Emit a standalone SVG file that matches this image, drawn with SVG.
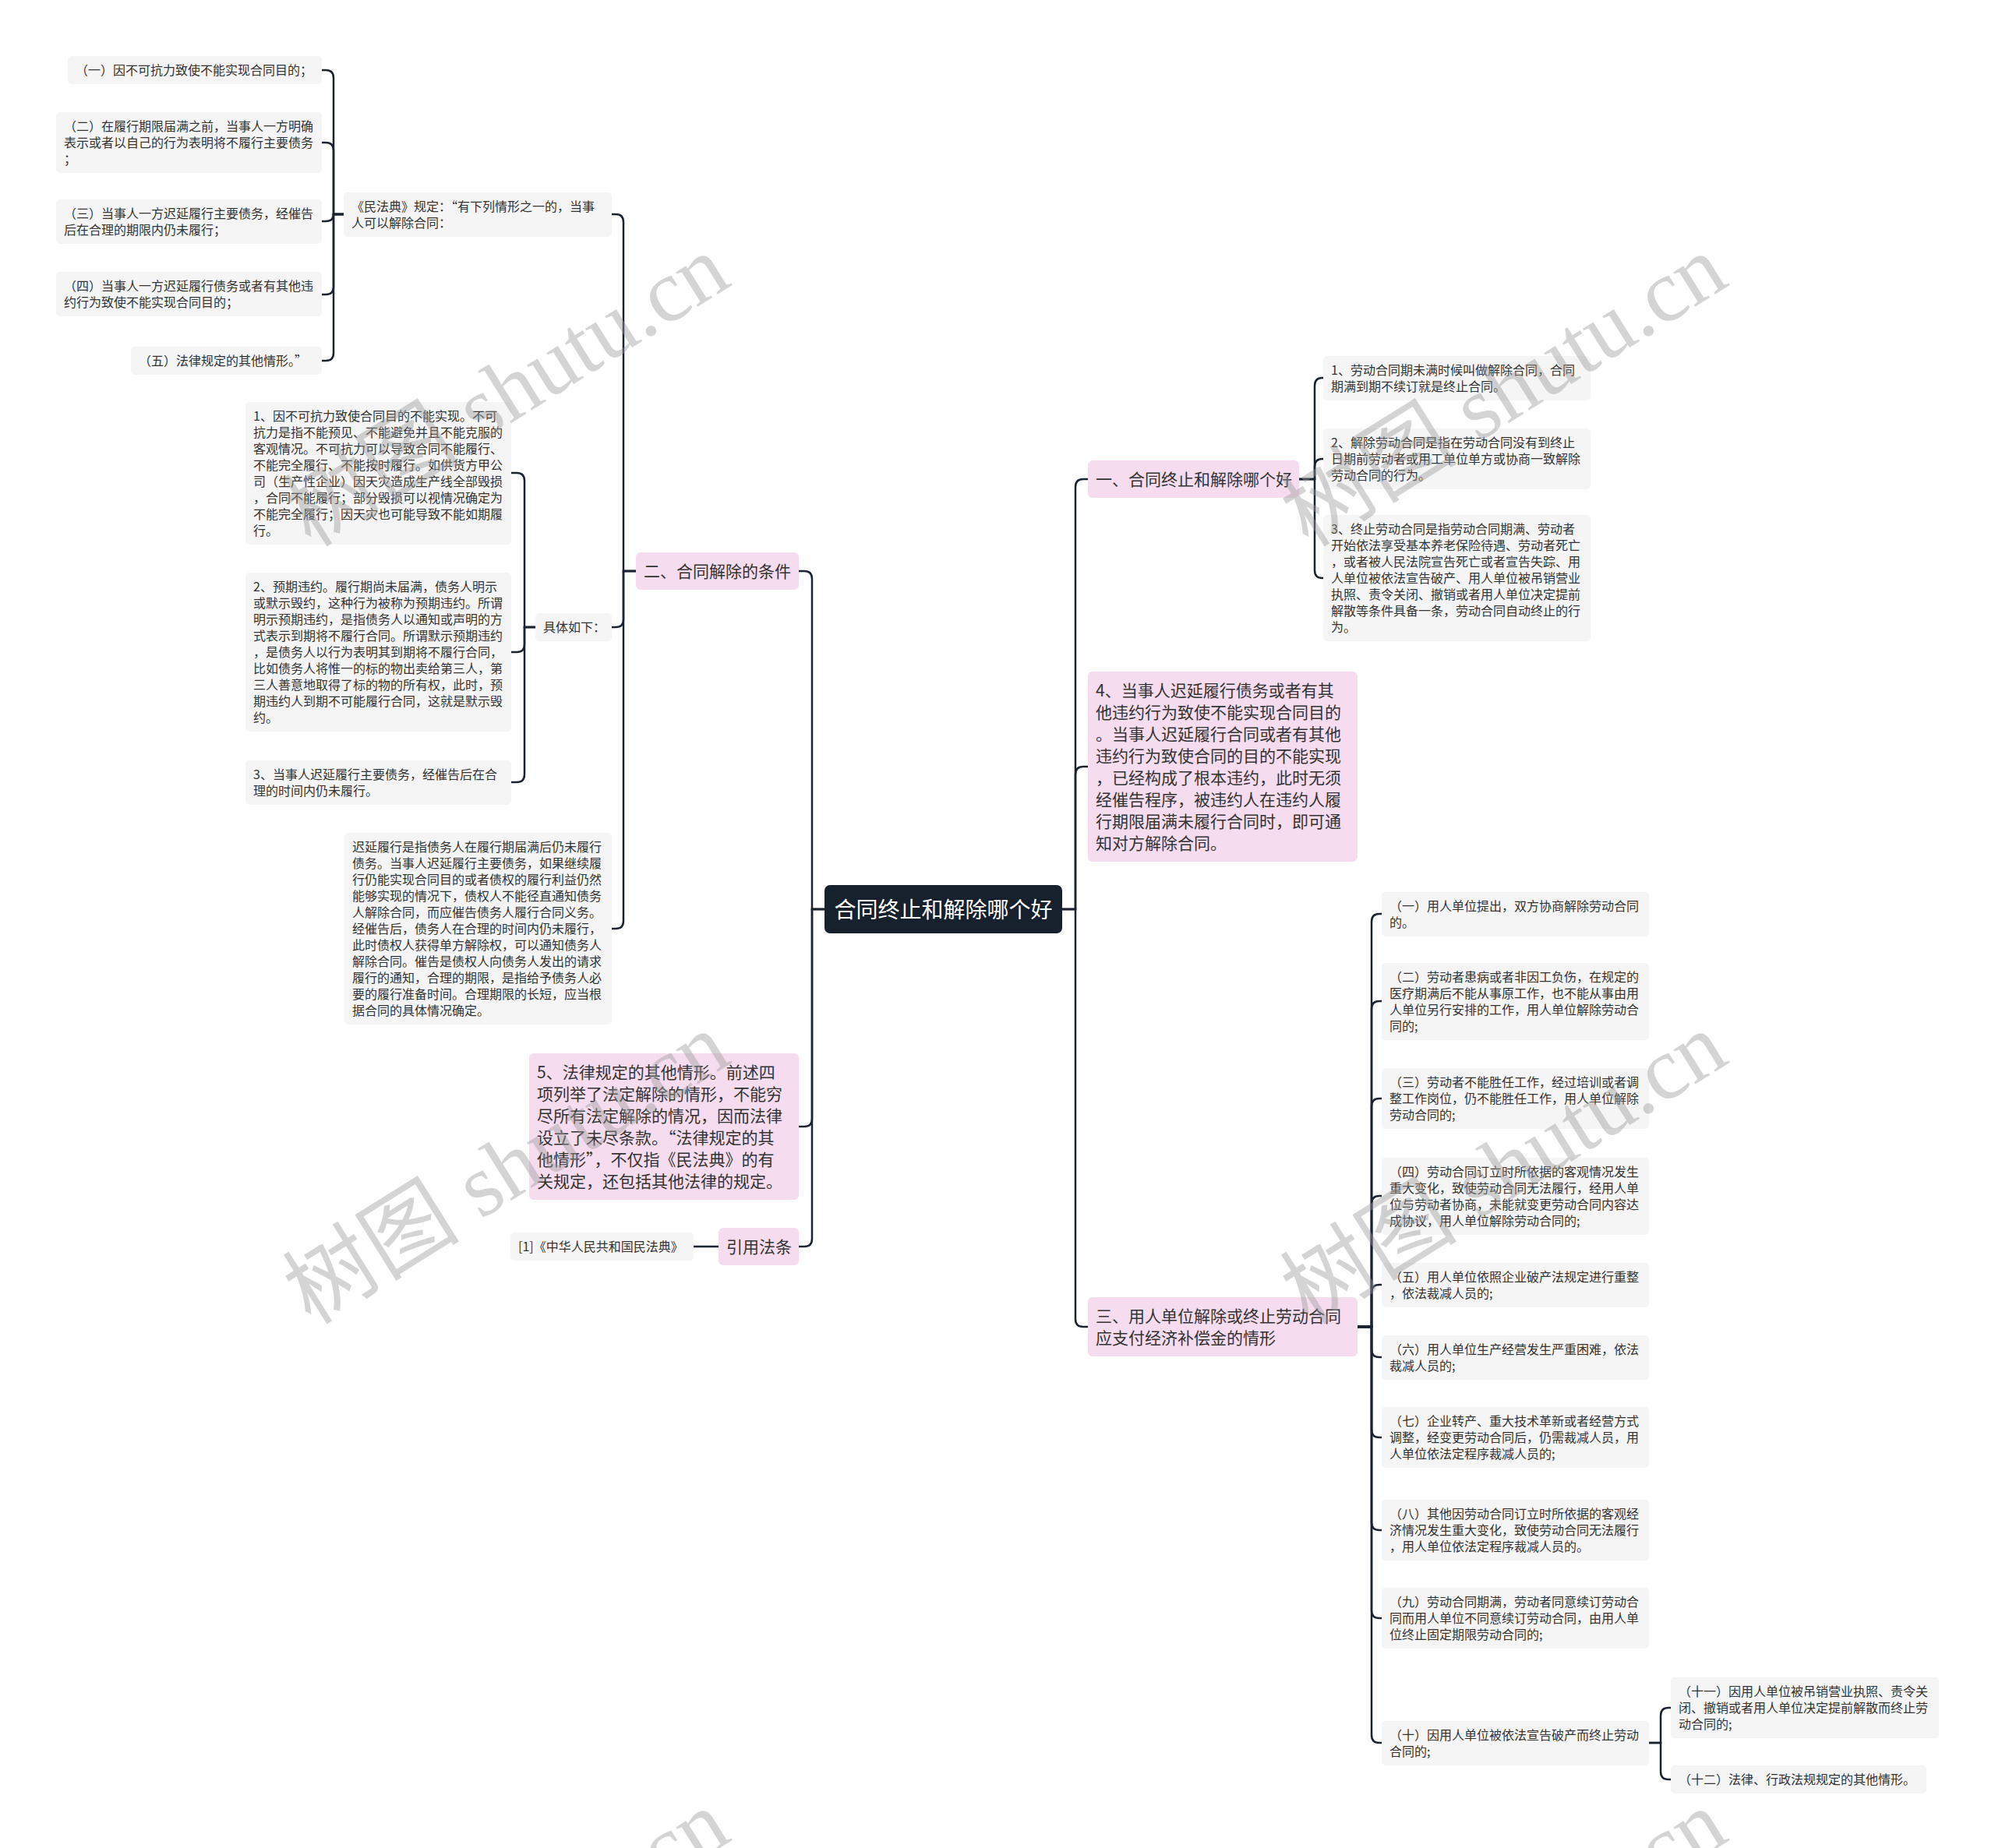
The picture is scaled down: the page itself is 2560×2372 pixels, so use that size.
<svg xmlns="http://www.w3.org/2000/svg" width="2560" height="2372" viewBox="0 0 2560 2372">
<style>
.g{fill:#f5f5f5}
.p{fill:#f6dcef}
.c{fill:#17202d}
text{font-family:"Noto Sans CJK SC","Noto Sans CJK JP",sans-serif;fill:#333}
.t{font-size:16px}
.t1{font-size:21px}
.tc{font-size:28px;fill:#ffffff}
.ln{fill:none;stroke:#1b2331;stroke-width:2.5;stroke-linecap:round}
.wm{font-family:"Liberation Serif","Noto Sans CJK SC",serif;font-size:114px;fill:#9a9a9a;opacity:0.42}
</style>
<rect width="2560" height="2372" fill="#ffffff"/>
<g id="connectors" class="ln">
<path d="M1058 1167 H1042 V743 Q1042 733 1032 733 H1025"/>
<path d="M1058 1167 H1042 V1436 Q1042 1446 1032 1446 H1025"/>
<path d="M1058 1167 H1042 V1590 Q1042 1600 1032 1600 H1025"/>
<path d="M1363 1167 H1380 V625 Q1380 615 1390 615 H1396"/>
<path d="M1363 1167 H1380 V994 Q1380 984 1390 984 H1396"/>
<path d="M1363 1167 H1380 V1693 Q1380 1703 1390 1703 H1396"/>
<path d="M816 733 H800 V285 Q800 275 790 275 H785"/>
<path d="M816 733 H800 V795 Q800 805 790 805 H785"/>
<path d="M816 733 H800 V1182 Q800 1192 790 1192 H785"/>
<path d="M441 275 H428 V100 Q428 90 418 90 H413"/>
<path d="M441 275 H428 V193 Q428 183 418 183 H413"/>
<path d="M441 275 H428 V275 Q428 284 418 284 H413"/>
<path d="M441 275 H428 V368 Q428 378 418 378 H413"/>
<path d="M441 275 H428 V453 Q428 463 418 463 H413"/>
<path d="M687 805 H673 V617 Q673 607 663 607 H656"/>
<path d="M687 805 H673 V827 Q673 837 663 837 H656"/>
<path d="M687 805 H673 V994 Q673 1004 663 1004 H656"/>
<path d="M1667 615 H1687 V495 Q1687 485 1697 485 H1698"/>
<path d="M1667 615 H1687 V599 Q1687 589 1697 589 H1698"/>
<path d="M1667 615 H1687 V732 Q1687 742 1697 742 H1698"/>
<path d="M1742 1703 H1760 V1183 Q1760 1173 1770 1173 H1773"/>
<path d="M1742 1703 H1760 V1295 Q1760 1285 1770 1285 H1773"/>
<path d="M1742 1703 H1760 V1420 Q1760 1410 1770 1410 H1773"/>
<path d="M1742 1703 H1760 V1545 Q1760 1535 1770 1535 H1773"/>
<path d="M1742 1703 H1760 V1659 Q1760 1649 1770 1649 H1773"/>
<path d="M1742 1703 H1760 V1732 Q1760 1742 1770 1742 H1773"/>
<path d="M1742 1703 H1760 V1835 Q1760 1845 1770 1845 H1773"/>
<path d="M1742 1703 H1760 V1954 Q1760 1964 1770 1964 H1773"/>
<path d="M1742 1703 H1760 V2067 Q1760 2077 1770 2077 H1773"/>
<path d="M1742 1703 H1760 V2227 Q1760 2237 1770 2237 H1773"/>
<path d="M2116 2237 H2131 V2202 Q2131 2192 2141 2192 H2144"/>
<path d="M2116 2237 H2131 V2274 Q2131 2284 2141 2284 H2144"/>
<path d="M922 1600 H890"/>
</g>
<g id="root"><rect class="c" x="1058" y="1136" width="305" height="62" rx="7"/><text class="tc" x="1210.5" y="1178" text-anchor="middle">合同终止和解除哪个好</text></g>
<g id="n-er"><rect class="p" x="816" y="709" width="209" height="48" rx="6"/><text class="t1" x="826" y="741">二、合同解除的条件</text></g>
<g id="n-five"><rect class="p" x="679" y="1352" width="346" height="188" rx="6"/><text class="t1"><tspan x="689" y="1384">5、法律规定的其他情形。前述四</tspan><tspan x="689" y="1412">项列举了法定解除的情形，不能穷</tspan><tspan x="689" y="1440">尽所有法定解除的情况，因而法律</tspan><tspan x="689" y="1468">设立了未尽条款。“法律规定的其</tspan><tspan x="689" y="1496">他情形”，不仅指《民法典》的有</tspan><tspan x="689" y="1524">关规定，还包括其他法律的规定。</tspan></text></g>
<g id="n-yinyong"><rect class="p" x="922" y="1576" width="103" height="48" rx="6"/><text class="t1" x="932" y="1608">引用法条</text></g>
<g id="n-law"><rect class="g" x="655" y="1582" width="235" height="36" rx="5"/><text class="t" x="665" y="1606">[1]《中华人民共和国民法典》</text></g>
<g id="n-minfa"><rect class="g" x="441" y="247" width="344" height="57" rx="5"/><text class="t"><tspan x="451" y="271">《民法典》规定：“有下列情形之一的，当事</tspan><tspan x="451" y="292">人可以解除合同：</tspan></text></g>
<g id="n-a1"><rect class="g" x="87" y="72" width="326" height="36" rx="5"/><text class="t" x="97" y="96">（一）因不可抗力致使不能实现合同目的；</text></g>
<g id="n-a2"><rect class="g" x="72" y="144" width="341" height="78" rx="5"/><text class="t"><tspan x="82" y="168">（二）在履行期限届满之前，当事人一方明确</tspan><tspan x="82" y="189">表示或者以自己的行为表明将不履行主要债务</tspan><tspan x="82" y="210">；</tspan></text></g>
<g id="n-a3"><rect class="g" x="72" y="256" width="341" height="57" rx="5"/><text class="t"><tspan x="82" y="280">（三）当事人一方迟延履行主要债务，经催告</tspan><tspan x="82" y="301">后在合理的期限内仍未履行；</tspan></text></g>
<g id="n-a4"><rect class="g" x="72" y="349" width="341" height="57" rx="5"/><text class="t"><tspan x="82" y="373">（四）当事人一方迟延履行债务或者有其他违</tspan><tspan x="82" y="394">约行为致使不能实现合同目的；</tspan></text></g>
<g id="n-a5"><rect class="g" x="168" y="445" width="245" height="36" rx="5"/><text class="t" x="178" y="469">（五）法律规定的其他情形。”</text></g>
<g id="n-juti"><rect class="g" x="687" y="787" width="98" height="36" rx="5"/><text class="t" x="697" y="811">具体如下：</text></g>
<g id="n-b1"><rect class="g" x="315" y="516" width="341" height="183" rx="5"/><text class="t"><tspan x="325" y="540">1、因不可抗力致使合同目的不能实现。不可</tspan><tspan x="325" y="561">抗力是指不能预见、不能避免并且不能克服的</tspan><tspan x="325" y="582">客观情况。不可抗力可以导致合同不能履行、</tspan><tspan x="325" y="603">不能完全履行、不能按时履行。如供货方甲公</tspan><tspan x="325" y="624">司（生产性企业）因天灾造成生产线全部毁损</tspan><tspan x="325" y="645">，合同不能履行；部分毁损可以视情况确定为</tspan><tspan x="325" y="666">不能完全履行；因天灾也可能导致不能如期履</tspan><tspan x="325" y="687">行。</tspan></text></g>
<g id="n-b2"><rect class="g" x="315" y="735" width="341" height="204" rx="5"/><text class="t"><tspan x="325" y="759">2、预期违约。履行期尚未届满，债务人明示</tspan><tspan x="325" y="780">或默示毁约，这种行为被称为预期违约。所谓</tspan><tspan x="325" y="801">明示预期违约，是指债务人以通知或声明的方</tspan><tspan x="325" y="822">式表示到期将不履行合同。所谓默示预期违约</tspan><tspan x="325" y="843">，是债务人以行为表明其到期将不履行合同，</tspan><tspan x="325" y="864">比如债务人将惟一的标的物出卖给第三人，第</tspan><tspan x="325" y="885">三人善意地取得了标的物的所有权，此时，预</tspan><tspan x="325" y="906">期违约人到期不可能履行合同，这就是默示毁</tspan><tspan x="325" y="927">约。</tspan></text></g>
<g id="n-b3"><rect class="g" x="315" y="976" width="341" height="57" rx="5"/><text class="t"><tspan x="325" y="1000">3、当事人迟延履行主要债务，经催告后在合</tspan><tspan x="325" y="1021">理的时间内仍未履行。</tspan></text></g>
<g id="n-c"><rect class="g" x="442" y="1069" width="343" height="246" rx="5"/><text class="t"><tspan x="452" y="1093">迟延履行是指债务人在履行期届满后仍未履行</tspan><tspan x="452" y="1114">债务。当事人迟延履行主要债务，如果继续履</tspan><tspan x="452" y="1135">行仍能实现合同目的或者债权的履行利益仍然</tspan><tspan x="452" y="1156">能够实现的情况下，债权人不能径直通知债务</tspan><tspan x="452" y="1177">人解除合同，而应催告债务人履行合同义务。</tspan><tspan x="452" y="1198">经催告后，债务人在合理的时间内仍未履行，</tspan><tspan x="452" y="1219">此时债权人获得单方解除权，可以通知债务人</tspan><tspan x="452" y="1240">解除合同。催告是债权人向债务人发出的请求</tspan><tspan x="452" y="1261">履行的通知，合理的期限，是指给予债务人必</tspan><tspan x="452" y="1282">要的履行准备时间。合理期限的长短，应当根</tspan><tspan x="452" y="1303">据合同的具体情况确定。</tspan></text></g>
<g id="n-yi"><rect class="p" x="1396" y="591" width="271" height="48" rx="6"/><text class="t1" x="1406" y="623">一、合同终止和解除哪个好</text></g>
<g id="n-g1"><rect class="g" x="1698" y="457" width="343" height="57" rx="5"/><text class="t"><tspan x="1708" y="481">1、劳动合同期未满时候叫做解除合同，合同</tspan><tspan x="1708" y="502">期满到期不续订就是终止合同。</tspan></text></g>
<g id="n-g2"><rect class="g" x="1698" y="550" width="343" height="78" rx="5"/><text class="t"><tspan x="1708" y="574">2、解除劳动合同是指在劳动合同没有到终止</tspan><tspan x="1708" y="595">日期前劳动者或用工单位单方或协商一致解除</tspan><tspan x="1708" y="616">劳动合同的行为。</tspan></text></g>
<g id="n-g3"><rect class="g" x="1698" y="661" width="343" height="162" rx="5"/><text class="t"><tspan x="1708" y="685">3、终止劳动合同是指劳动合同期满、劳动者</tspan><tspan x="1708" y="706">开始依法享受基本养老保险待遇、劳动者死亡</tspan><tspan x="1708" y="727">，或者被人民法院宣告死亡或者宣告失踪、用</tspan><tspan x="1708" y="748">人单位被依法宣告破产、用人单位被吊销营业</tspan><tspan x="1708" y="769">执照、责令关闭、撤销或者用人单位决定提前</tspan><tspan x="1708" y="790">解散等条件具备一条，劳动合同自动终止的行</tspan><tspan x="1708" y="811">为。</tspan></text></g>
<g id="n-four"><rect class="p" x="1396" y="862" width="346" height="244" rx="6"/><text class="t1"><tspan x="1406" y="894">4、当事人迟延履行债务或者有其</tspan><tspan x="1406" y="922">他违约行为致使不能实现合同目的</tspan><tspan x="1406" y="950">。当事人迟延履行合同或者有其他</tspan><tspan x="1406" y="978">违约行为致使合同的目的不能实现</tspan><tspan x="1406" y="1006">，已经构成了根本违约，此时无须</tspan><tspan x="1406" y="1034">经催告程序，被违约人在违约人履</tspan><tspan x="1406" y="1062">行期限届满未履行合同时，即可通</tspan><tspan x="1406" y="1090">知对方解除合同。</tspan></text></g>
<g id="n-san"><rect class="p" x="1396" y="1665" width="346" height="76" rx="6"/><text class="t1"><tspan x="1406" y="1697">三、用人单位解除或终止劳动合同</tspan><tspan x="1406" y="1725">应支付经济补偿金的情形</tspan></text></g>
<g id="n-i1"><rect class="g" x="1773" y="1145" width="343" height="57" rx="5"/><text class="t"><tspan x="1783" y="1169">（一）用人单位提出，双方协商解除劳动合同</tspan><tspan x="1783" y="1190">的。</tspan></text></g>
<g id="n-i2"><rect class="g" x="1773" y="1236" width="343" height="99" rx="5"/><text class="t"><tspan x="1783" y="1260">（二）劳动者患病或者非因工负伤，在规定的</tspan><tspan x="1783" y="1281">医疗期满后不能从事原工作，也不能从事由用</tspan><tspan x="1783" y="1302">人单位另行安排的工作，用人单位解除劳动合</tspan><tspan x="1783" y="1323">同的;</tspan></text></g>
<g id="n-i3"><rect class="g" x="1773" y="1371" width="343" height="78" rx="5"/><text class="t"><tspan x="1783" y="1395">（三）劳动者不能胜任工作，经过培训或者调</tspan><tspan x="1783" y="1416">整工作岗位，仍不能胜任工作，用人单位解除</tspan><tspan x="1783" y="1437">劳动合同的;</tspan></text></g>
<g id="n-i4"><rect class="g" x="1773" y="1486" width="343" height="99" rx="5"/><text class="t"><tspan x="1783" y="1510">（四）劳动合同订立时所依据的客观情况发生</tspan><tspan x="1783" y="1531">重大变化，致使劳动合同无法履行，经用人单</tspan><tspan x="1783" y="1552">位与劳动者协商，未能就变更劳动合同内容达</tspan><tspan x="1783" y="1573">成协议，用人单位解除劳动合同的;</tspan></text></g>
<g id="n-i5"><rect class="g" x="1773" y="1621" width="343" height="57" rx="5"/><text class="t"><tspan x="1783" y="1645">（五）用人单位依照企业破产法规定进行重整</tspan><tspan x="1783" y="1666">，依法裁减人员的;</tspan></text></g>
<g id="n-i6"><rect class="g" x="1773" y="1714" width="343" height="57" rx="5"/><text class="t"><tspan x="1783" y="1738">（六）用人单位生产经营发生严重困难，依法</tspan><tspan x="1783" y="1759">裁减人员的;</tspan></text></g>
<g id="n-i7"><rect class="g" x="1773" y="1806" width="343" height="78" rx="5"/><text class="t"><tspan x="1783" y="1830">（七）企业转产、重大技术革新或者经营方式</tspan><tspan x="1783" y="1851">调整，经变更劳动合同后，仍需裁减人员，用</tspan><tspan x="1783" y="1872">人单位依法定程序裁减人员的;</tspan></text></g>
<g id="n-i8"><rect class="g" x="1773" y="1925" width="343" height="78" rx="5"/><text class="t"><tspan x="1783" y="1949">（八）其他因劳动合同订立时所依据的客观经</tspan><tspan x="1783" y="1970">济情况发生重大变化，致使劳动合同无法履行</tspan><tspan x="1783" y="1991">，用人单位依法定程序裁减人员的。</tspan></text></g>
<g id="n-i9"><rect class="g" x="1773" y="2038" width="343" height="78" rx="5"/><text class="t"><tspan x="1783" y="2062">（九）劳动合同期满，劳动者同意续订劳动合</tspan><tspan x="1783" y="2083">同而用人单位不同意续订劳动合同，由用人单</tspan><tspan x="1783" y="2104">位终止固定期限劳动合同的;</tspan></text></g>
<g id="n-i10"><rect class="g" x="1773" y="2209" width="343" height="57" rx="5"/><text class="t"><tspan x="1783" y="2233">（十）因用人单位被依法宣告破产而终止劳动</tspan><tspan x="1783" y="2254">合同的;</tspan></text></g>
<g id="n-i11"><rect class="g" x="2144" y="2153" width="344" height="78" rx="5"/><text class="t"><tspan x="2154" y="2177">（十一）因用人单位被吊销营业执照、责令关</tspan><tspan x="2154" y="2198">闭、撤销或者用人单位决定提前解散而终止劳</tspan><tspan x="2154" y="2219">动合同的;</tspan></text></g>
<g id="n-i12"><rect class="g" x="2144" y="2266" width="328" height="36" rx="5"/><text class="t" x="2154" y="2290">（十二）法律、行政法规规定的其他情形。</text></g>
<g id="watermark">
<text class="wm" x="650" y="540" text-anchor="middle" transform="rotate(-32 650 502)">树图 shutu.cn</text>
<text class="wm" x="1930" y="540" text-anchor="middle" transform="rotate(-32 1930 502)">树图 shutu.cn</text>
<text class="wm" x="650" y="1538" text-anchor="middle" transform="rotate(-32 650 1500)">树图 shutu.cn</text>
<text class="wm" x="1930" y="1538" text-anchor="middle" transform="rotate(-32 1930 1500)">树图 shutu.cn</text>
<text class="wm" x="650" y="2536" text-anchor="middle" transform="rotate(-32 650 2498)">树图 shutu.cn</text>
<text class="wm" x="1930" y="2536" text-anchor="middle" transform="rotate(-32 1930 2498)">树图 shutu.cn</text>
</g>
</svg>
